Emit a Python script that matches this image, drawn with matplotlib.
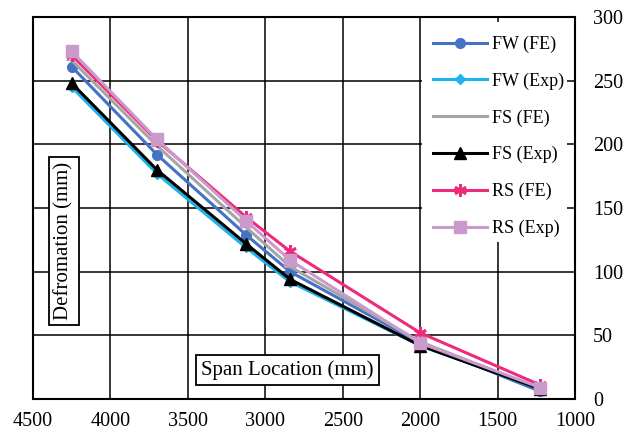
import matplotlib.pyplot as plt
from matplotlib.patches import Rectangle

plt.rcParams['font.family'] = ['Liberation Serif', 'DejaVu Serif']

# span locations (mm)
span = [4250, 3700, 3125, 2840, 2000, 1225]

# deformation (mm) for each series
fw_fe = [261, 192, 129, 100, 44, 6]
fw_exp = [245, 177, 119, 92, 42, 8]
fs_fe = [266, 199, 135, 104, 45, 8]
fs_exp = [248, 180, 122, 94, 42, 8]
rs_fe = [270, 203, 143, 116, 52, 11]
rs_exp = [273, 204, 140, 109, 44, 9]

series = [
    ('FW (FE)', fw_fe, '#4472C4', 'o', 7),
    ('FW (Exp)', fw_exp, '#1EB4EA', 'D', 5),
    ('FS (FE)', fs_fe, '#A5A5A5', '_', 8),
    ('FS (Exp)', fs_exp, 'black', '^', 8),
    ('RS (FE)', rs_fe, '#EE2A7B', (6, 2, 0), 9),
    ('RS (Exp)', rs_exp, '#CC99CC', 's', 9),
]

fig = plt.figure(figsize=(6.37, 4.34), dpi=100)
ax = fig.add_axes([0.0518, 0.0806, 0.8509, 0.8802])

for name, vals, col, mk, ms in series:
    ax.plot(span, vals, color=col, lw=2.2, marker=mk, markersize=ms,
            mew=2 if mk == (6, 2, 0) else 1, label=name, zorder=3)

ax.set_xlim(4500, 1000)
ax.set_ylim(0, 300)
ax.set_xticks(range(4500, 999, -500))
ax.set_yticks(range(0, 301, 50))
ax.yaxis.tick_right()
ax.tick_params(axis='both', length=0, labelsize=14.5)
ax.tick_params(axis='y', pad=13)
ax.tick_params(axis='x', pad=9)
ax.set_axisbelow(True)
ax.grid(True, color='black', lw=1.1)
for s in ax.spines.values():
    s.set_linewidth(1.5)

# white area behind the legend hides the grid
ax.add_patch(Rectangle((0.718, 0.411), 0.267, 0.576, transform=ax.transAxes,
                       facecolor='white', edgecolor='none', zorder=1))
ax.legend(loc='upper left', bbox_to_anchor=(0.725, 0.97), frameon=False,
          fontsize=13, handlelength=3.0, handletextpad=0.25, labelspacing=1.08,
          borderaxespad=0)

box = dict(boxstyle='square,pad=0.25', facecolor='white', edgecolor='black', lw=1.3)
ax.text(0.47, 0.076, 'Span Location (mm)', transform=ax.transAxes, fontsize=15,
        ha='center', va='center', bbox=box, zorder=4)
ax.text(0.057, 0.414, 'Defromation (mm)', transform=ax.transAxes, fontsize=15,
        ha='center', va='center', rotation=90, bbox=box, zorder=4)

fig.savefig('out.png', dpi=100)
